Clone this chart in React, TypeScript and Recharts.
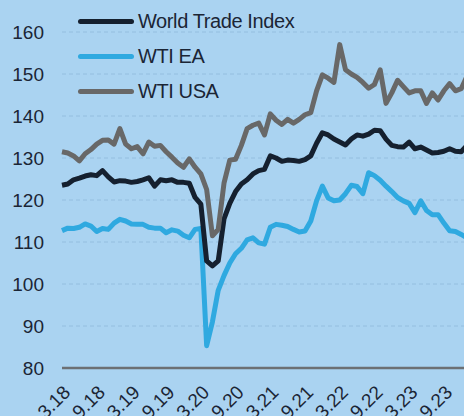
import { LineChart, Line, XAxis, YAxis, CartesianGrid } from 'recharts';

// monthly, Mar 2018 .. Jan 2024
const startYear = 2018;
const startMonth = 3;

const worldTrade = [
  123.5, 123.8, 124.8, 125.2, 125.7, 126, 125.8, 127, 125.5, 124.3,
  124.6, 124.5, 124.2, 124.4, 124.8, 125.3, 123.3, 124.8, 124.6, 124.8,
  124.2, 124.2, 124, 120.6, 119, 105.5, 104.3, 105.5, 115.5, 119.2,
  122, 123.8, 124.8, 126.2, 127, 127.3, 130.5, 130, 129.2, 129.5,
  129.4, 129.2, 129.6, 130.5, 133.5, 136, 135.5, 134.5, 133.8, 133.1,
  134.5, 135.5, 135.2, 135.7, 136.6, 136.5, 134.5, 133, 132.7, 132.6,
  133.8, 132.2, 132.6, 131.9, 131.2, 131.3, 131.6, 132.2, 131.6, 131.5,
  133,
];

const wtiEA = [
  112.7, 113.3, 113.2, 113.5, 114.3, 113.8, 112.5, 113.2, 113, 114.5,
  115.4, 115, 114.3, 114.2, 114.2, 113.5, 113.3, 113.3, 112.2, 112.9,
  112.6, 111.6, 111, 113, 113.2, 85.3, 91, 98.5, 102, 105,
  107.2, 108.5, 110.5, 111, 109.8, 109.5, 113.5, 114.2, 114, 113.7,
  113, 112.4, 112.6, 115, 119.8, 123.3, 120.5, 119.8, 120, 121.5,
  123.5, 123.2, 121.5, 126.5, 125.8, 124.7, 123.3, 122, 120.6, 119.8,
  119.2, 117, 119.8, 117.5, 116.5, 116.5, 114.5, 112.7, 112.5, 111.8,
  111,
];

const wtiUSA = [
  131.5, 131.2, 130.5, 129.3, 131, 132, 133.3, 134.2, 134.3, 133.3,
  137, 133.3, 132.2, 132.7, 131, 133.8, 132.8, 133, 131.5, 130.2,
  128.8, 127.8, 129.8, 127.8, 126.2, 122.5, 111.5, 113, 124, 129.5,
  129.7, 133, 137, 137.8, 138.3, 135.5, 140.5, 139, 138, 139.2,
  138.3, 139.2, 140.3, 140.8, 146, 149.8, 149, 148, 157, 151,
  150, 149.2, 148, 146.6, 147.5, 151, 143, 145.5, 148.5, 147,
  145.5, 146, 146, 143, 145.5, 143.8, 146, 147.7, 146, 146.5,
  149.5,
];

const yTicks = [80, 90, 100, 110, 120, 130, 140, 150, 160];

const seriesInfo = [
  { key: 'world', name: 'World Trade Index', color: '#15202f' },
  { key: 'ea', name: 'WTI EA', color: '#2fa9e0' },
  { key: 'usa', name: 'WTI USA', color: '#686868' },
];

const data = worldTrade.map((v, i) => {
  const m = ((startMonth - 1 + i) % 12) + 1;
  const y = startYear + Math.floor((startMonth - 1 + i) / 12);
  return {
    month: `${m}.${String(y).slice(2)}`,
    world: v,
    ea: wtiEA[i],
    usa: wtiUSA[i],
  };
});

const textColor = '#1b2535';
const font = '"Liberation Sans", Arial, sans-serif';

function LegendBox() {
  return (
    <div style={{ position: 'absolute', left: 78, top: 4, fontFamily: font }}>
      {seriesInfo.map((s) => (
        <div key={s.key} style={{ display: 'flex', alignItems: 'center', height: 35 }}>
          <div style={{ width: 56, height: 5, borderRadius: 3, background: s.color, marginRight: 4 }} />
          <span style={{ fontSize: 20, color: textColor, letterSpacing: -0.4 }}>{s.name}</span>
        </div>
      ))}
    </div>
  );
}

export default function App() {
  return (
    <div
      style={{
        position: 'fixed',
        left: 0,
        top: 0,
        width: 464,
        height: 416,
        overflow: 'hidden',
        background: '#aad3f1',
      }}
    >
      <LineChart
        width={480}
        height={460}
        data={data}
        margin={{ top: 32, right: 13, left: 0, bottom: 0 }}
      >
        <CartesianGrid horizontal vertical={false} stroke="#94bedf" strokeDasharray="4 3" />
        <XAxis
          dataKey="month"
          interval={5}
          height={92}
          tickLine={false}
          tickMargin={10}
          axisLine={{ stroke: '#6c7074', strokeWidth: 2.5 }}
          angle={-45}
          textAnchor="end"
          tick={{ fill: textColor, fontSize: 19, fontFamily: font }}
        />
        <YAxis
          domain={[80, 160]}
          ticks={yTicks}
          width={62}
          axisLine={false}
          tickLine={false}
          tickSize={0}
          tickMargin={18}
          tick={{ fill: textColor, fontSize: 19, fontFamily: font }}
        />
        <Line type="linear" dataKey="ea" name="WTI EA" stroke="#2fa9e0" strokeWidth={5} dot={false} strokeLinejoin="round" isAnimationActive={false} />
        <Line type="linear" dataKey="world" name="World Trade Index" stroke="#15202f" strokeWidth={5} dot={false} strokeLinejoin="round" isAnimationActive={false} />
        <Line type="linear" dataKey="usa" name="WTI USA" stroke="#686868" strokeWidth={5} dot={false} strokeLinejoin="round" isAnimationActive={false} />
      </LineChart>
      <LegendBox />
    </div>
  );
}
